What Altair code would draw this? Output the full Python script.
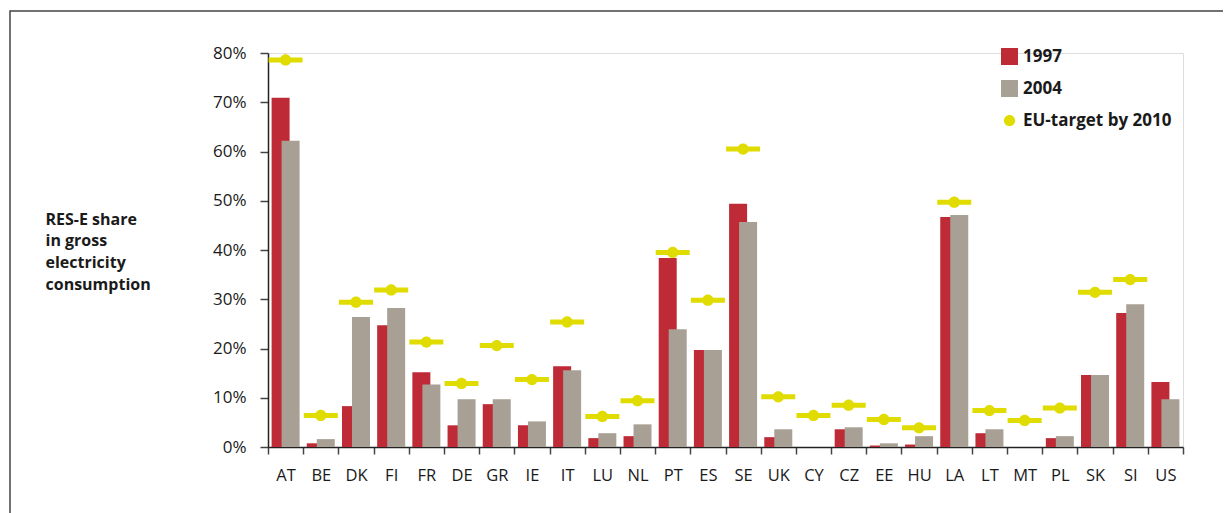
import altair as alt
import pandas as pd

countries = ["AT", "BE", "DK", "FI", "FR", "DE", "GR", "IE", "IT", "LU", "NL", "PT", "ES",
             "SE", "UK", "CY", "CZ", "EE", "HU", "LA", "LT", "MT", "PL", "SK", "SI", "US"]
share_1997 = [70.9, 0.75, 8.3, 24.7, 15.2, 4.4, 8.7, 4.4, 16.4, 1.8, 2.2, 38.4, 19.7,
              49.4, 2.0, None, 3.6, 0.3, 0.5, 46.7, 2.8, None, 1.8, 14.6, 27.2, 13.2]
share_2004 = [62.2, 1.6, 26.4, 28.2, 12.7, 9.7, 9.7, 5.2, 15.6, 2.8, 4.6, 23.9, 19.7,
              45.7, 3.6, None, 4.0, 0.75, 2.2, 47.1, 3.6, None, 2.2, 14.6, 29.0, 9.7]
target_2010 = [78.6, 6.4, 29.4, 31.9, 21.3, 12.9, 20.6, 13.7, 25.4, 6.2, 9.4, 39.5, 29.8,
               60.5, 10.2, 6.4, 8.5, 5.6, 3.9, 49.7, 7.4, 5.4, 7.9, 31.4, 34.0, None]

series_names = ["1997", "2004", "EU-target by 2010"]
series_colors = ["#be2a36", "#a8a094", "#e0dc00"]
y_title = ["RES-E share", "in gross", "electricity", "consumption"]

FONT = "Open Sans"

df97 = pd.DataFrame({"country": countries, "value": share_1997, "series": "1997"})
df04 = pd.DataFrame({"country": countries, "value": share_2004, "series": "2004"})
dft = pd.DataFrame({"country": countries, "value": target_2010, "series": "EU-target by 2010"})

x_enc = alt.X("country:N", sort=countries, title=None,
              scale=alt.Scale(paddingInner=0, paddingOuter=0),
              axis=alt.Axis(labelAngle=0, tickBand="extent", tickSize=7, tickWidth=1.5,
                            domainWidth=1.5, domainColor="#222", tickColor="#444",
                            labelFont=FONT, labelFontSize=16.5, labelColor="#1a1a1a",
                            labelPadding=13))
y_enc = alt.Y("value:Q", title=y_title,
              scale=alt.Scale(domain=[0, 80], nice=False),
              axis=alt.Axis(values=[0, 10, 20, 30, 40, 50, 60, 70, 80],
                            labelExpr="datum.value + '%'", grid=False,
                            tickSize=8, tickWidth=1.5, domainWidth=1.5,
                            domainColor="#222", tickColor="#444",
                            labelFont=FONT, labelFontSize=17, labelColor="#1a1a1a",
                            labelPadding=14,
                            titleAngle=0, titleAlign="left", titleBaseline="top",
                            titleX=-223, titleY=158, titleFont=FONT, titleFontSize=16,
                            titleFontWeight="bold", titleColor="#1a1a1a",
                            titleLineHeight=21.7))

color_scale = alt.Scale(domain=series_names, range=series_colors)
legend = alt.Legend(title=None, orient="none", legendX=733, legendY=-5,
                    symbolSize=289, symbolStrokeWidth=0, rowPadding=14,
                    labelFont=FONT, labelFontSize=17, labelFontWeight="bold",
                    labelColor="#1a1a1a", labelOffset=5, padding=0)

bars97 = alt.Chart(df97).mark_bar(width=18, xOffset=-5).encode(
    x=x_enc, y=y_enc,
    color=alt.Color("series:N", scale=color_scale, legend=legend))
bars04 = alt.Chart(df04).mark_bar(width=18, xOffset=5).encode(
    x=x_enc, y=y_enc,
    color=alt.Color("series:N", scale=color_scale, legend=legend))
ticks = alt.Chart(dft).mark_tick(size=34, thickness=5, opacity=1, color="#e0dc00").encode(
    x=x_enc, y=y_enc)
SQUARE = "M-1,-1H1V1H-1Z"
CIRCLE = "M-0.66,0A0.66,0.66 0 1,1 0.66,0A0.66,0.66 0 1,1 -0.66,0Z"
dots = alt.Chart(dft).mark_point(filled=True, opacity=1, size=289).encode(
    x=x_enc, y=y_enc,
    color=alt.Color("series:N", scale=color_scale, legend=legend),
    shape=alt.Shape("series:N", scale=alt.Scale(domain=series_names,
                                                range=[SQUARE, SQUARE, CIRCLE]),
                    legend=legend))

frame = alt.Chart(pd.DataFrame({"a": [0]})).mark_rect(
    fillOpacity=0, stroke="#444", strokeWidth=1.5).encode(
    x=alt.value(-258), x2=alt.value(957), y=alt.value(-42), y2=alt.value(520))

chart = alt.layer(frame, bars97, bars04, ticks, dots).properties(
    width=915, height=394,
    autosize=alt.AutoSizeParams(type="none"),
    padding={"left": 260, "top": 45, "right": 40, "bottom": 80},
).configure_view(stroke=None).configure(background="white")

chart.save("out.html", embed_options={"renderer": "svg", "actions": False})
